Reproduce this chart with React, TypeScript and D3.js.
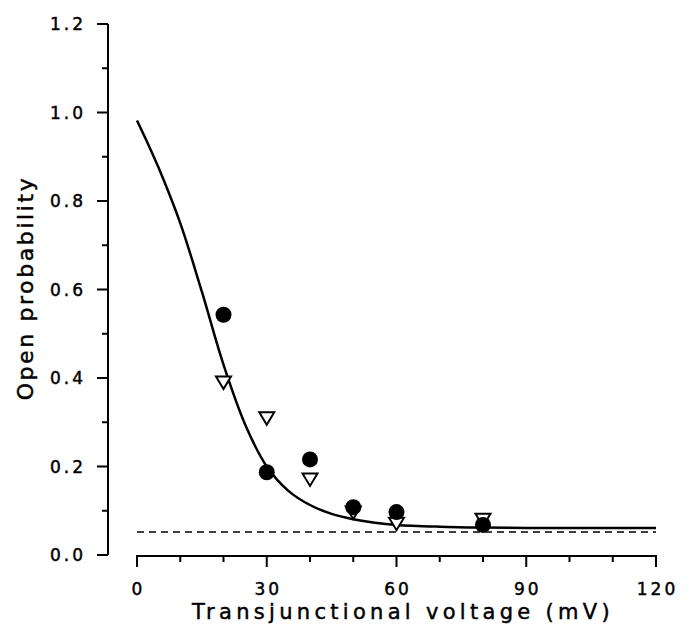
import React, { useEffect, useRef } from "react";
import * as d3 from "d3";

const xTicksMajor = [0, 30, 60, 90, 120];
const xTicksMinor = [10, 20, 40, 50, 70, 80, 100, 110];
const yTicksMajor = [0, 0.2, 0.4, 0.6, 0.8, 1.0, 1.2];
const yTicksMinor = [0.1, 0.3, 0.5, 0.7, 0.9, 1.1];

const circleV = [20, 30, 40, 50, 60, 80];
const circleP = [0.543, 0.187, 0.216, 0.108, 0.097, 0.068];

const triV = [20, 30, 40, 50, 60, 80];
const triP = [0.391, 0.31, 0.172, 0.097, 0.072, 0.081];

const fitV = [0, 2.5, 5, 10, 15, 20, 25, 30, 35, 40, 45, 50, 55, 60, 70, 80, 90, 100, 110, 120];
const fitP = [0.982, 0.93, 0.875, 0.75, 0.595, 0.43, 0.295, 0.2, 0.145, 0.113, 0.093, 0.081, 0.073, 0.068, 0.064, 0.062, 0.061, 0.061, 0.061, 0.061];

const baselineP = 0.052;

export default function App() {
  const ref = useRef<SVGSVGElement>(null);

  useEffect(() => {
    const svg = d3.select(ref.current);
    svg.selectAll("*").remove();
    const x = d3.scaleLinear().domain([0, 120]).range([137, 656]);
    const y = d3.scaleLinear().domain([0, 1.2]).range([555, 24]);
    const font = "'DejaVu Sans', sans-serif";
    const axisX = 108;
    const axisY = 556;
    const textStroke = 0.45;

    // Y axis
    svg.append("line").attr("x1", axisX).attr("x2", axisX).attr("y1", y(1.2)).attr("y2", y(0))
      .attr("stroke", "#000").attr("stroke-width", 2);
    yTicksMajor.forEach((t) => {
      svg.append("line").attr("x1", axisX - 11).attr("x2", axisX).attr("y1", y(t)).attr("y2", y(t))
        .attr("stroke", "#000").attr("stroke-width", 2);
      svg.append("text").attr("x", 86).attr("y", y(t)).attr("dy", "0.36em")
        .attr("text-anchor", "end").attr("font-family", font).attr("font-size", 17)
        .attr("letter-spacing", 3).attr("stroke", "#000").attr("stroke-width", textStroke)
        .text(d3.format(".1f")(t));
    });
    yTicksMinor.forEach((t) => {
      svg.append("line").attr("x1", axisX - 6).attr("x2", axisX).attr("y1", y(t)).attr("y2", y(t))
        .attr("stroke", "#000").attr("stroke-width", 2);
    });

    // X axis
    svg.append("line").attr("x1", x(0) - 1).attr("x2", x(120) + 1).attr("y1", axisY).attr("y2", axisY)
      .attr("stroke", "#000").attr("stroke-width", 2);
    xTicksMajor.forEach((t) => {
      svg.append("line").attr("x1", x(t)).attr("x2", x(t)).attr("y1", axisY).attr("y2", axisY + 11)
        .attr("stroke", "#000").attr("stroke-width", 2);
      svg.append("text").attr("x", x(t) + 1.5).attr("y", 595)
        .attr("text-anchor", "middle").attr("font-family", font).attr("font-size", 17)
        .attr("letter-spacing", 3).attr("stroke", "#000").attr("stroke-width", textStroke)
        .text(String(t));
    });
    xTicksMinor.forEach((t) => {
      svg.append("line").attr("x1", x(t)).attr("x2", x(t)).attr("y1", axisY).attr("y2", axisY + 6)
        .attr("stroke", "#000").attr("stroke-width", 2);
    });

    // Titles
    svg.append("text").attr("x", 401 + 2).attr("y", 619).attr("text-anchor", "middle")
      .attr("font-family", font).attr("font-size", 21).attr("letter-spacing", 4.3)
      .attr("stroke", "#000").attr("stroke-width", textStroke)
      .text("Transjunctional voltage (mV)");
    svg.append("text").attr("transform", `translate(33,${288}) rotate(-90)`).attr("text-anchor", "middle")
      .attr("font-family", font).attr("font-size", 22).attr("letter-spacing", 2.6)
      .attr("stroke", "#000").attr("stroke-width", textStroke)
      .text("Open probability");

    // Dashed baseline
    svg.append("line").attr("x1", x(0)).attr("x2", x(120)).attr("y1", y(baselineP)).attr("y2", y(baselineP))
      .attr("stroke", "#000").attr("stroke-width", 1.6).attr("stroke-dasharray", "7,5");

    // Fit curve
    const fit = fitV.map((v, i) => [v, fitP[i]] as [number, number]);
    const line = d3.line<[number, number]>().x((d) => x(d[0])).y((d) => y(d[1])).curve(d3.curveCatmullRom);
    svg.append("path").attr("d", line(fit)).attr("fill", "none").attr("stroke", "#000").attr("stroke-width", 2.5);

    // Triangles
    triV.forEach((v, i) => {
      const cx = x(v), cy = y(triP[i]);
      svg.append("path").attr("d", `M${cx - 7.5},${cy - 5.5}L${cx + 7.5},${cy - 5.5}L${cx},${cy + 7}Z`)
        .attr("fill", "#fff").attr("stroke", "#000").attr("stroke-width", 2).attr("stroke-linejoin", "miter");
    });
    // Circles
    circleV.forEach((v, i) => {
      svg.append("circle").attr("cx", x(v)).attr("cy", y(circleP[i])).attr("r", 8).attr("fill", "#000");
    });
  }, []);

  return (
    <svg ref={ref} width={693} height={630} style={{ position: "absolute", left: 0, top: 0, background: "#fff" }} />
  );
}
